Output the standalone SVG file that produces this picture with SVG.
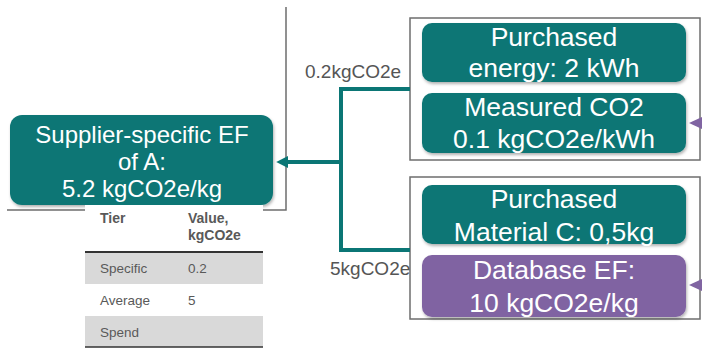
<svg xmlns="http://www.w3.org/2000/svg" width="702" height="348" viewBox="0 0 702 348">
<style>
.teal{fill:#0b7675}
.purple{fill:#8064a2}
.nt{font-family:"Liberation Sans",Arial,sans-serif;font-size:24px;fill:#ffffff;text-anchor:middle}
.nr{font-family:"Liberation Sans",Arial,sans-serif;font-size:26.5px;fill:#ffffff;text-anchor:middle}
.lbl{font-family:"Liberation Sans",Arial,sans-serif;font-size:19px;fill:#555555}
.tb{font-family:"Liberation Sans",Arial,sans-serif;font-size:13.5px;fill:#595959}
.tbh{font-family:"Liberation Sans",Arial,sans-serif;font-size:14px;fill:#595959;font-weight:bold}
.frame{fill:none;stroke:#6e6e6e;stroke-width:1.5}
.conn{fill:none;stroke:#0b7675;stroke-width:4}
</style>
<defs>
<filter id="sh" x="-10%" y="-10%" width="120%" height="130%">
<feDropShadow dx="1" dy="2" stdDeviation="1.5" flood-color="#000" flood-opacity="0.3"/>
</filter>
<marker id="at" viewBox="0 0 10 10" refX="1" refY="5" markerWidth="3" markerHeight="3" orient="auto-start-reverse" markerUnits="strokeWidth">
<path d="M0,0 L10,5 L0,10 z" fill="#0b7675"/>
</marker>
</defs>
<rect width="702" height="348" fill="#ffffff"/>
<g id="frames">
<polyline class="frame" points="286,7 286,210 7,210"/>
<rect class="frame" x="410" y="18" width="290" height="142"/>
<rect class="frame" x="410" y="177" width="290" height="142"/>
</g>
<g id="connectors">
<polyline class="conn" points="410,89 341,89 341,250 410,250"/>
<line class="conn" x1="341" y1="162" x2="287" y2="162" marker-end="url(#at)"/>
<polygon points="689,123 702,117 702,129" class="purple"/>
<polygon points="689,285 702,279 702,291" class="purple"/>
<text class="lbl" x="305" y="78">0.2kgCO2e</text>
<text class="lbl" x="330" y="275">5kgCO2e</text>
</g>
<g id="node-supplier">
<rect class="teal" x="10" y="115" width="263" height="90" rx="12" filter="url(#sh)"/>
<text class="nt" x="142" y="143">Supplier-specific EF</text>
<text class="nt" x="142" y="170">of A:</text>
<text class="nt" x="142" y="197">5.2 kgCO2e/kg</text>
</g>
<g id="node-energy">
<rect class="teal" x="422" y="23" width="264" height="59" rx="10" filter="url(#sh)"/>
<text class="nr" x="554" y="46">Purchased</text>
<text class="nr" x="554" y="77">energy: 2 kWh</text>
</g>
<g id="node-measured">
<rect class="teal" x="422" y="93" width="264" height="60" rx="10" filter="url(#sh)"/>
<text class="nr" x="554" y="116">Measured CO2</text>
<text class="nr" x="554" y="148">0.1 kgCO2e/kWh</text>
</g>
<g id="node-material">
<rect class="teal" x="422" y="185" width="264" height="59" rx="10" filter="url(#sh)"/>
<text class="nr" x="554" y="208">Purchased</text>
<text class="nr" x="554" y="241">Material C: 0,5kg</text>
</g>
<g id="node-database">
<rect class="purple" x="422" y="255" width="264" height="62" rx="10" filter="url(#sh)"/>
<text class="nr" x="554" y="279">Database EF:</text>
<text class="nr" x="554" y="312">10 kgCO2e/kg</text>
</g>
<g id="table">
<rect x="85" y="205" width="178" height="47" fill="#ffffff"/>
<rect x="85" y="252" width="178" height="32" fill="#d9d9d9"/>
<rect x="85" y="284" width="178" height="32" fill="#ffffff"/>
<rect x="85" y="316" width="178" height="31" fill="#d9d9d9"/>
<line x1="85" y1="252" x2="263" y2="252" stroke="#333" stroke-width="2"/>
<line x1="85" y1="347" x2="263" y2="347" stroke="#333" stroke-width="1.5"/>
<text class="tbh" x="100" y="223">Tier</text>
<text class="tbh" x="188" y="223">Value,</text>
<text class="tbh" x="188" y="240">kgCO2e</text>
<text class="tb" x="100" y="273">Specific</text>
<text class="tb" x="188" y="273">0.2</text>
<text class="tb" x="100" y="305">Average</text>
<text class="tb" x="188" y="305">5</text>
<text class="tb" x="100" y="337">Spend</text>
</g>
</svg>
